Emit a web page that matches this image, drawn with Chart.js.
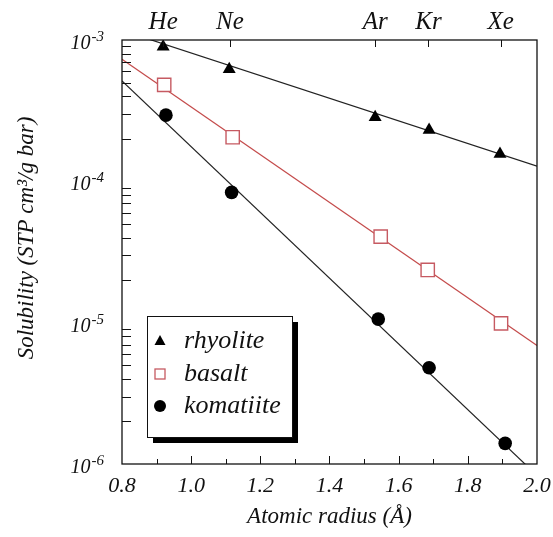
<!DOCTYPE html>
<html>
<head>
<meta charset="utf-8">
<script src="https://cdn.jsdelivr.net/npm/chart.js@4/dist/chart.umd.min.js"></script>
<style>
  html, body { margin: 0; padding: 0; background: #fff; }
  canvas { display: block; }
</style>
</head>
<body>
<canvas id="solChart" width="553" height="537"></canvas>
<script>
// noble gases (top axis) and their radii
const elements = ['He', 'Ne', 'Ar', 'Kr', 'Xe'];
const elementRadius = [0.919, 1.112, 1.532, 1.686, 1.895];

const rhyoliteX = [0.919, 1.110, 1.532, 1.688, 1.893];
const rhyoliteSol = [8.97e-4, 6.20e-4, 2.84e-4, 2.31e-4, 1.56e-4];
const basaltX = [0.922, 1.120, 1.548, 1.684, 1.896];
const basaltSol = [4.81e-4, 2.05e-4, 4.06e-5, 2.36e-5, 9.89e-6];
const komatiiteX = [0.927, 1.117, 1.541, 1.688, 1.908];
const komatiiteSol = [2.94e-4, 8.36e-5, 1.06e-5, 4.80e-6, 1.40e-6];

// fitted lines (end points)
const fitX = [0.8, 2.0];
const rhyoliteFit = [1.17e-3, 1.28e-4];
const basaltFit = [7.3e-4, 6.9e-6];
const komatiiteFit = [5.13e-4, 8.3e-7];

// axis ticks
const xTicks = [0.8, 1.0, 1.2, 1.4, 1.6, 1.8, 2.0];
const yDecades = [-6, -5, -4, -3];

const RED_LINE = '#c44b4b';
const RED_MARK = '#c65a62';
const SERIF = '"Liberation Serif", "DejaVu Serif", serif';

function pts(xs, ys) {
    return xs.map((x, i) => ({ x: x, y: ys[i] }));
}

// no extra side padding for the label overflow
function noSidePad(scale) {
    scale.paddingLeft = 0;
    scale.paddingRight = 0;
}

// cadre, petites graduations, etiquettes log et legende
const decorPlugin = {
    id: 'decor',
    afterDraw: function (chart) {
        const ctx = chart.ctx;
        const a = chart.chartArea;
        const xs = chart.scales.x;
        const ys = chart.scales.y;
        ctx.save();
        ctx.strokeStyle = '#111';
        ctx.lineWidth = 1.3;
        ctx.strokeRect(a.left, a.top, a.right - a.left, a.bottom - a.top);

        // bottom ticks, every 0.1
        ctx.lineWidth = 1;
        ctx.beginPath();
        for (let i = 9; i <= 19; i++) {
            const px = Math.round(xs.getPixelForValue(i / 10)) + 0.5;
            const len = i % 2 === 0 ? 8 : 5;
            ctx.moveTo(px, a.bottom);
            ctx.lineTo(px, a.bottom - len);
        }
        // top ticks at the gases
        elementRadius.forEach(r => {
            const px = Math.round(xs.getPixelForValue(r)) + 0.5;
            ctx.moveTo(px, a.top);
            ctx.lineTo(px, a.top + 7);
        });
        // left log ticks
        yDecades.slice(0, 3).forEach(d => {
            for (let m = 2; m <= 9; m++) {
                const py = Math.round(ys.getPixelForValue(m * Math.pow(10, d))) + 0.5;
                ctx.moveTo(a.left, py);
                ctx.lineTo(a.left + 9, py);
            }
        });
        ctx.stroke();

        // y labels 10^n
        ctx.fillStyle = '#111';
        ctx.textBaseline = 'alphabetic';
        yDecades.forEach(d => {
            const py = ys.getPixelForValue(Math.pow(10, d));
            const sup = '-' + Math.abs(d);
            ctx.font = 'italic 15px ' + SERIF;
            const supW = ctx.measureText(sup).width;
            ctx.textAlign = 'right';
            ctx.fillText(sup, 104, py + 1);
            ctx.font = 'italic 20px ' + SERIF;
            ctx.fillText('10', 104 - supW - 1, py + 9);
        });

        // y title
        ctx.save();
        ctx.translate(27, 238);
        ctx.rotate(-Math.PI / 2);
        ctx.textAlign = 'center';
        ctx.textBaseline = 'middle';
        ctx.font = 'italic 23px ' + SERIF;
        ctx.fillText('Solubility (STP cm³/g bar)', 0, 0);
        ctx.restore();

        // legend box with drop shadow
        const lx = 147, ly = 316, lw = 145, lh = 121;
        ctx.fillStyle = '#000';
        ctx.fillRect(lx + 6, ly + 6, lw, lh);
        ctx.fillStyle = '#fff';
        ctx.fillRect(lx, ly, lw, lh);
        ctx.strokeStyle = '#111';
        ctx.lineWidth = 1;
        ctx.strokeRect(lx + 0.5, ly + 0.5, lw, lh);

        const items = [
            { label: 'rhyolite', y: 341, style: 'triangle' },
            { label: 'basalt', y: 374, style: 'rect' },
            { label: 'komatiite', y: 406, style: 'circle' }
        ];
        const mx = 160;
        items.forEach(it => {
            ctx.beginPath();
            if (it.style === 'triangle') {
                ctx.fillStyle = '#000';
                ctx.moveTo(mx, it.y - 6);
                ctx.lineTo(mx + 5.5, it.y + 4);
                ctx.lineTo(mx - 5.5, it.y + 4);
                ctx.closePath();
                ctx.fill();
            } else if (it.style === 'rect') {
                ctx.strokeStyle = RED_MARK;
                ctx.lineWidth = 1.3;
                ctx.strokeRect(mx - 5, it.y - 5, 10, 10);
            } else {
                ctx.fillStyle = '#000';
                ctx.arc(mx, it.y, 6, 0, Math.PI * 2);
                ctx.fill();
            }
            ctx.fillStyle = '#111';
            ctx.font = 'italic 26px ' + SERIF;
            ctx.textAlign = 'left';
            ctx.textBaseline = 'middle';
            ctx.fillText(it.label, 184, it.y);
        });
        ctx.restore();
    }
};

const ctx = document.getElementById('solChart').getContext('2d');
new Chart(ctx, {
    type: 'scatter',
    data: {
        datasets: [
            {
                label: 'rhyolite',
                data: pts(rhyoliteX, rhyoliteSol),
                pointStyle: 'triangle',
                pointRadius: 7.5,
                backgroundColor: '#000',
                borderColor: '#000',
                borderWidth: 0,
                order: 0
            },
            {
                label: 'basalt',
                data: pts(basaltX, basaltSol),
                pointStyle: 'rect',
                pointRadius: 9.4,
                backgroundColor: '#fff',
                borderColor: RED_MARK,
                borderWidth: 1.4,
                order: 0
            },
            {
                label: 'komatiite',
                data: pts(komatiiteX, komatiiteSol),
                pointStyle: 'circle',
                pointRadius: 6.8,
                backgroundColor: '#000',
                borderColor: '#000',
                borderWidth: 0,
                order: 0
            },
            {
                label: 'rhyolite fit',
                data: pts(fitX, rhyoliteFit),
                showLine: true,
                pointRadius: 0,
                borderColor: '#222',
                borderWidth: 1.2,
                order: 1
            },
            {
                label: 'basalt fit',
                data: pts(fitX, basaltFit),
                showLine: true,
                pointRadius: 0,
                borderColor: RED_LINE,
                borderWidth: 1.2,
                order: 1
            },
            {
                label: 'komatiite fit',
                data: pts(fitX, komatiiteFit),
                showLine: true,
                pointRadius: 0,
                borderColor: '#222',
                borderWidth: 1.2,
                order: 1
            }
        ]
    },
    options: {
        responsive: false,
        animation: false,
        layout: { padding: { left: 0, right: 16, top: 0, bottom: 0 } },
        plugins: {
            legend: { display: false },
            tooltip: { enabled: false }
        },
        scales: {
            x: {
                type: 'linear',
                position: 'bottom',
                min: 0.8,
                max: 2.0,
                afterBuildTicks: function (scale) {
                    scale.ticks = xTicks.map(v => ({ value: v }));
                },
                afterFit: function (scale) {
                    scale.height = 73;
                    noSidePad(scale);
                },
                grid: { display: false, drawTicks: false },
                border: { display: false },
                ticks: {
                    padding: 9,
                    color: '#111',
                    maxRotation: 0,
                    font: { family: SERIF, size: 22, style: 'italic' },
                    callback: v => v.toFixed(1)
                },
                title: {
                    display: true,
                    text: 'Atomic radius (Å)',
                    color: '#111',
                    font: { family: SERIF, size: 23, style: 'italic' },
                    padding: { top: 0, bottom: 6 }
                }
            },
            xTop: {
                type: 'linear',
                position: 'top',
                min: 0.8,
                max: 2.0,
                afterBuildTicks: function (scale) {
                    scale.ticks = elementRadius.map(v => ({ value: v }));
                },
                afterFit: function (scale) {
                    scale.height = 40;
                    noSidePad(scale);
                },
                grid: { display: false, drawTicks: false },
                border: { display: false },
                ticks: {
                    padding: 3,
                    color: '#111',
                    maxRotation: 0,
                    autoSkip: false,
                    font: { family: SERIF, size: 25, style: 'italic' },
                    callback: function (v, i) { return elements[i]; }
                }
            },
            y: {
                type: 'logarithmic',
                min: 1e-6,
                max: 1e-3,
                afterFit: function (scale) {
                    scale.width = 122;
                    scale.paddingTop = 0;
                    scale.paddingBottom = 0;
                },
                grid: { display: false, drawTicks: false },
                border: { display: false },
                ticks: { display: false }
            }
        }
    },
    plugins: [decorPlugin]
});
</script>
</body>
</html>
